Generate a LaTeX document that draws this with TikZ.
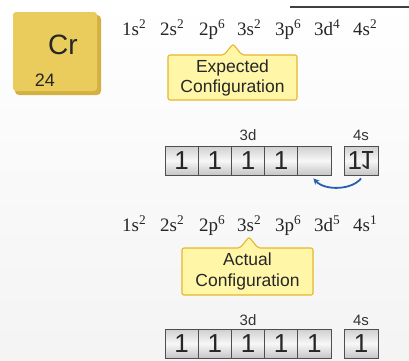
\documentclass[tikz,border=0pt]{standalone}
\usepackage{fontspec}
\setmainfont{Liberation Serif}
\setsansfont{Liberation Sans}
\usepackage{graphicx}
\usetikzlibrary{arrows.meta}
\definecolor{tileface}{RGB}{234,204,92}
\definecolor{tileside}{RGB}{210,176,66}
\definecolor{callfill}{RGB}{255,246,168}
\definecolor{callline}{RGB}{232,182,44}
\definecolor{arrowblue}{RGB}{38,95,172}
\definecolor{celledge}{RGB}{78,78,84}
\begin{document}
\begin{tikzpicture}[x=1pt,y=-1pt,
  term/.style={anchor=base west, inner sep=0pt, font=\fontsize{19}{19}\selectfont, text=black!85},
  callout/.style={fill=callfill, draw=callline, line width=1.1pt, rounded corners=2pt},
  calltext/.style={align=center, inner sep=0pt, font=\sffamily\fontsize{17.5}{20.5}\selectfont, text=black!85},
  cell/.style={draw=celledge, line width=0.9pt, minimum width=33.2pt, minimum height=29pt, inner sep=0pt,
    top color=gray!38, bottom color=gray!45, middle color=gray!6,
    font=\sffamily\fontsize{26}{26}\selectfont, text=black!85},
  orblabel/.style={inner sep=0pt, font=\sffamily\fontsize{15}{15}\selectfont, text=black!80}]
\useasboundingbox (0,0) rectangle (409,360);
\fill[top color=white, bottom color=gray!9] (0,0) rectangle (409,360);
\draw[black!75, line width=1.5pt] (290,7) -- (409,7);
% element tile
\fill[tileside, rounded corners=4pt] (15,15) rectangle (101,95);
\fill[tileface, rounded corners=3pt] (13,12) rectangle (97,91);
\node[inner sep=0pt, font=\sffamily\fontsize{28}{28}\selectfont, text=black!85] (sym) at (63,45) {Cr};
\node[inner sep=0pt, font=\sffamily\fontsize{18}{18}\selectfont, text=black!85] (num) at (45,80) {24};
% expected configuration
\node[term] (e1) at (122,35) {1s\textsuperscript{2}};
\node[term] (e2) at (160,35) {2s\textsuperscript{2}};
\node[term] (e3) at (199,35) {2p\textsuperscript{6}};
\node[term] (e4) at (237,35) {3s\textsuperscript{2}};
\node[term] (e5) at (275,35) {3p\textsuperscript{6}};
\node[term] (e6) at (314,35) {3d\textsuperscript{4}};
\node[term] (e7) at (353,35) {4s\textsuperscript{2}};
\draw[callout] (168,55) -- (224,55) -- (233,44) -- (242,55) -- (297,55) -- (297,100) -- (168,100) -- cycle;
\node[calltext] (exp) at (232.5,78) {Expected\\Configuration};
% expected orbitals
\node[orblabel] (l3d) at (248,135) {3d};
\node[orblabel] (l4s) at (361,135) {4s};
\node[cell] (a1) at (181.6,160.5) {1};
\node[cell] (a2) at (214.8,160.5) {1};
\node[cell] (a3) at (248.0,160.5) {1};
\node[cell] (a4) at (281.2,160.5) {1};
\node[cell] (a5) at (314.4,160.5) {};
\node[cell, minimum width=34pt] (as) at (361,160.5) {1\kern-2pt\raisebox{\depth}{\scalebox{1}[-1]{1}}};
\draw[arrowblue, line width=1.8pt, -{Stealth[length=6pt,width=6pt]}]
  ([yshift=-3pt]as.south) .. controls (352,190) and (325,191) .. ([yshift=-3pt,xshift=-1pt]a5.south);
% actual configuration
\node[term] (c1) at (122,231) {1s\textsuperscript{2}};
\node[term] (c2) at (160,231) {2s\textsuperscript{2}};
\node[term] (c3) at (199,231) {2p\textsuperscript{6}};
\node[term] (c4) at (237,231) {3s\textsuperscript{2}};
\node[term] (c5) at (275,231) {3p\textsuperscript{6}};
\node[term] (c6) at (314,231) {3d\textsuperscript{5}};
\node[term] (c7) at (353,231) {4s\textsuperscript{1}};
\draw[callout] (182,248) -- (240,248) -- (249,237) -- (258,248) -- (313,248) -- (313,295) -- (182,295) -- cycle;
\node[calltext] (act) at (247.5,271.5) {Actual\\Configuration};
% actual orbitals
\node[orblabel] (m3d) at (248,320) {3d};
\node[orblabel] (m4s) at (361,320) {4s};
\node[cell] (b1) at (181.6,343.5) {1};
\node[cell] (b2) at (214.8,343.5) {1};
\node[cell] (b3) at (248.0,343.5) {1};
\node[cell] (b4) at (281.2,343.5) {1};
\node[cell] (b5) at (314.4,343.5) {1};
\node[cell, minimum width=34pt] (bs) at (361,343.5) {1};
\end{tikzpicture}
\end{document}
